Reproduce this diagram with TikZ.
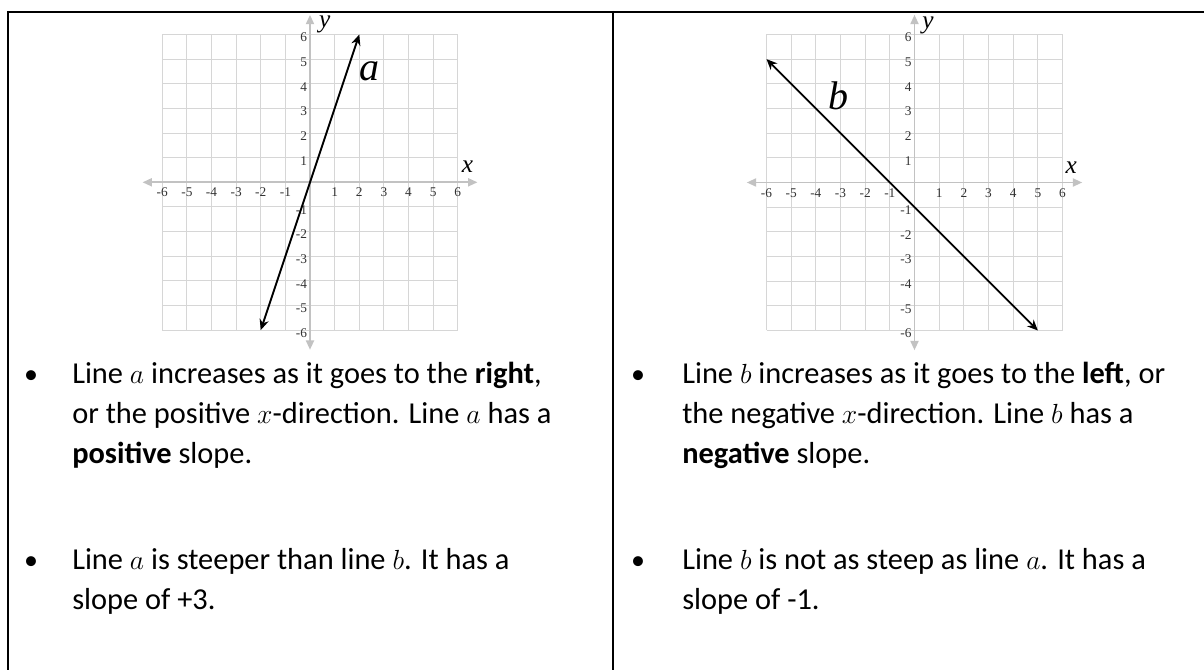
\documentclass[tikz,border=0pt]{standalone}
\usepackage{fontspec}
\setmainfont{Carlito}
\newfontfamily\graphfont{Liberation Serif}
\usepackage{tikz}
\usetikzlibrary{arrows.meta,positioning,calc}
\definecolor{gridgray}{HTML}{D6D6D6}
\definecolor{axisgray}{HTML}{C2C2C2}

\begin{document}
\begin{tikzpicture}[x=0.75pt,y=-0.75pt,
    gridline/.style={gridgray,line width=0.8pt},
    axisline/.style={axisgray,line width=1.4pt,
      {Triangle[length=7pt,width=6pt]}-{Triangle[length=7pt,width=6pt]}},
    graphline/.style={black,line width=1.4pt,
      {Stealth[length=8pt,width=7pt]}-{Stealth[length=8pt,width=7pt]}},
    ticklabel/.style={font=\graphfont\fontsize{10}{10}\selectfont,inner sep=0.5pt,text=black!80},
    axislabel/.style={font=\graphfont\itshape\fontsize{19}{19}\selectfont,inner sep=0pt},
    linelabel/.style={font=\graphfont\itshape\fontsize{30}{30}\selectfont,inner sep=0pt},
    bulletmark/.style={font=\fontsize{21}{21}\selectfont,inner sep=0pt,anchor=base},
    bullettext/.style={font=\fontsize{22.8}{30}\selectfont,align=left,inner sep=0pt,anchor=base west},
    tablethick/.style={black,line width=1.5pt},
    tablethin/.style={black,line width=0.8pt}]
  \useasboundingbox (0,0) rectangle (1204,670);

  % table borders
  \draw[tablethick] (8,12) -- (140,12);
  \draw[tablethin] (140,12) -- (1086,12);
  \draw[tablethick] (1086,12) -- (1204,12);
  \draw[tablethick] (8,11) -- (8,670);
  \draw[tablethick] (613,11) -- (613,670);

  % graph of line a
  \begin{scope}[shift={(310,182.3)},x=18.47pt,y=18.47pt]
    \foreach \k in {-6,...,6} {
      \draw[gridline] (\k,-6) -- (\k,6);
      \draw[gridline] (-6,\k) -- (6,\k);
    }
    \coordinate (axl) at (-6.8,0);
    \coordinate (axr) at (6.8,0);
    \coordinate (ayb) at (0,-6.8);
    \coordinate (ayt) at (0,6.8);
    \draw[axisline] (axl) -- (axr);
    \draw[axisline] (ayb) -- (ayt);
    \foreach \k in {-6,...,-1,1,2,...,6} {
      \node[ticklabel,anchor=north] (ax\k) at (\k,-0.2) {\k};
      \node[ticklabel,anchor=east] (ay\k) at (-0.08,\k-0.12) {\k};
    }
    \node[axislabel] (xa) at (6.4,0.65) {x};
    \node[axislabel] (ya) at (0.6,6.4) {y};
    \coordinate (alow) at (-2,-6);
    \coordinate (ahigh) at (2,6);
    \draw[graphline] (alow) -- (ahigh);
    \node[linelabel] (la) at (2.4,4.5) {a};
  \end{scope}

  % graph of line b
  \begin{scope}[shift={(914.5,182.5)},x=18.5pt,y=18.5pt]
    \foreach \k in {-6,...,6} {
      \draw[gridline] (\k,-6) -- (\k,6);
      \draw[gridline] (-6,\k) -- (6,\k);
    }
    \coordinate (bxl) at (-6.8,0);
    \coordinate (bxr) at (6.8,0);
    \coordinate (byb) at (0,-6.8);
    \coordinate (byt) at (0,6.8);
    \draw[axisline] (bxl) -- (bxr);
    \draw[axisline] (byb) -- (byt);
    \foreach \k in {-6,...,-1,1,2,...,6} {
      \node[ticklabel,anchor=north] (bx\k) at (\k,-0.2) {\k};
      \node[ticklabel,anchor=east] (by\k) at (-0.08,\k-0.12) {\k};
    }
    \node[axislabel] (xb) at (6.35,0.6) {x};
    \node[axislabel] (yb) at (0.55,6.35) {y};
    \coordinate (bhigh) at (-6,5);
    \coordinate (blow) at (5,-6);
    \draw[graphline] (bhigh) -- (blow);
    \node[linelabel] (lb) at (-3.08,3.5) {b};
  \end{scope}

  % text of the left column
  \node[bulletmark] (p1) at (31,384) {\textbullet};
  \node[bullettext] (t1) at (72,464)
    {Line $a$ increases as it goes to the \textbf{right},\\
     or the positive $x$-direction. Line $a$ has a\\
     \textbf{positive} slope.};
  \node[bulletmark] (p2) at (31,569) {\textbullet};
  \node[bullettext] (t2) at (72,609)
    {Line $a$ is steeper than line $b$. It has a\\
     slope of +3.};

  % text of the right column
  \node[bulletmark] (q1) at (638,384) {\textbullet};
  \node[bullettext] (s1) at (682,464)
    {Line $b$ increases as it goes to the \textbf{left}, or\\
     the negative $x$-direction. Line $b$ has a\\
     \textbf{negative} slope.};
  \node[bulletmark] (q2) at (638,569) {\textbullet};
  \node[bullettext] (s2) at (682,609)
    {Line $b$ is not as steep as line $a$. It has a\\
     slope of -1.};
\end{tikzpicture}
\end{document}
